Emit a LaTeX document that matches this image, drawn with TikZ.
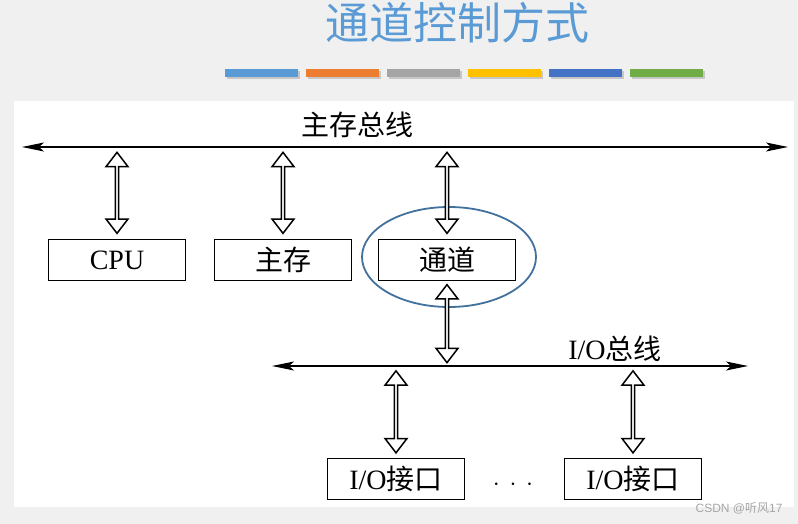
\documentclass[tikz,border=0pt]{standalone}
\usepackage{fontspec}
\setmainfont{Liberation Serif}
\newfontfamily\cjk{Noto Sans CJK SC}
\newfontfamily\sanslat{Liberation Sans}
\usetikzlibrary{arrows.meta,shapes.arrows,calc}
\definecolor{titleblue}{HTML}{5B9BD5}
\definecolor{ringblue}{HTML}{41719C}
\definecolor{pagegray}{HTML}{F0F0F0}
\definecolor{barA}{HTML}{5B9BD5}
\definecolor{barB}{HTML}{ED7D31}
\definecolor{barC}{HTML}{A5A5A5}
\definecolor{barD}{HTML}{FFC000}
\definecolor{barE}{HTML}{4472C4}
\definecolor{barF}{HTML}{70AD47}

\begin{document}
\begin{tikzpicture}[x=1pt, y=-1pt, >={Stealth[length=22pt, width=9pt, inset=5pt]},
  unit/.style={draw, line width=1.6pt, minimum width=137pt, minimum height=41pt,
    inner sep=0pt, font=\fontsize{28}{30}\selectfont},
  hollow/.style={double arrow, draw, line width=1.5pt, fill=white, minimum width=22pt,
    double arrow head extend=4.5pt, double arrow tip angle=75, inner sep=0pt, rotate=90},
  buslabel/.style={font=\cjk\fontsize{28}{30}\selectfont}]
  % fondo y panel
  \fill[pagegray] (0,0) rectangle (798,524);
  \useasboundingbox (0,0) rectangle (798,524);
  \fill[white] (14,101) rectangle (794,507);
  % titulo y barras
  \node[font=\cjk\fontsize{44}{48}\selectfont, text=titleblue] (title) at (457,23) {通道控制方式};
  \foreach \c [count=\i from 0] in {barA,barB,barC,barD,barE,barF} {
    \fill[black!22] (226.5+81*\i,71.5) rectangle ++(73,8);
    \fill[\c] (225+81*\i,69) rectangle ++(73,8);
  }
  % bus principal
  \coordinate (mbusL) at (22,147);
  \coordinate (mbusR) at (788,147);
  \draw[<->, line width=1.4pt] (mbusL) -- (mbusR);
  \node[buslabel] (mbuslabel) at (357,125) {主存总线};
  % unidades
  \node[unit] (cpu) at (117,260) {CPU};
  \node[unit, font=\cjk\fontsize{28}{30}\selectfont] (mem) at (283,260) {主存};
  \node[unit, font=\cjk\fontsize{28}{30}\selectfont] (chan) at (447,260) {通道};
  \draw[ringblue, line width=1.8pt] (449,257) ellipse [x radius=87, y radius=50];
  % bus de E/S
  \coordinate (iobusL) at (272,366);
  \coordinate (iobusR) at (748,366);
  \draw[<->, line width=1.4pt] (iobusL) -- (iobusR);
  \node[buslabel, font=\fontsize{28}{30}\selectfont] (iobuslabel) at (615,349) {I/O{\cjk 总线}};
  \node[unit] (io1) at (396,479) {I/O{\cjk 接口}};
  \node[unit] (io2) at (633,479) {I/O{\cjk 接口}};
  \node[font=\fontsize{30}{32}\selectfont] (dots) at (513,485) {$\cdot\,\cdot\,\cdot$};
  % flechas huecas
  \path (cpu.north) -- (cpu.north |- mbusL) node[midway, hollow, minimum height=81pt] (a1) {};
  \path (mem.north) -- (mem.north |- mbusL) node[midway, hollow, minimum height=81pt] (a2) {};
  \path (chan.north) -- (chan.north |- mbusL) node[midway, hollow, minimum height=81pt] (a3) {};
  \path (chan.south) -- (chan.south |- iobusL) node[midway, hollow, minimum height=78pt] (a4) {};
  \path (io1.north) -- (io1.north |- iobusL) node[midway, hollow, minimum height=82pt] (a5) {};
  \path (io2.north) -- (io2.north |- iobusL) node[midway, hollow, minimum height=82pt] (a6) {};
  % marca
  \node[font=\sanslat\fontsize{12}{14}\selectfont, text=black!35, anchor=east] (mark) at (786,508) {CSDN @{\cjk 听风}17};
\end{tikzpicture}
\end{document}
